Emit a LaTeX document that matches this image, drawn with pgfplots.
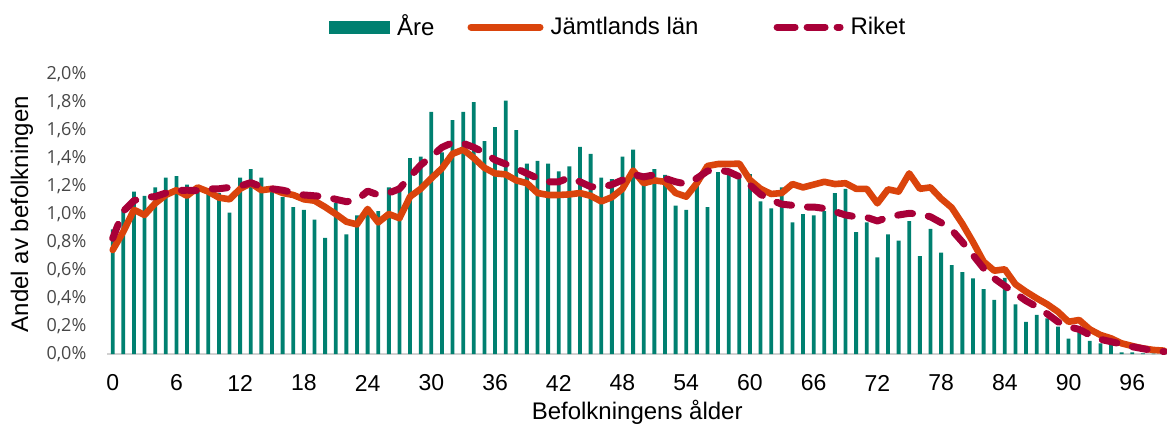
\documentclass[border=0pt]{standalone}
\usepackage{pgfplots}
\usepackage{pgfplotstable}
\pgfplotsset{compat=1.18}
\usepackage{fontspec}
\setmainfont{Liberation Sans}
\newfontfamily\yfont{Open Sans}
\definecolor{areC}{RGB}{0,128,112}
\definecolor{jamC}{RGB}{218,68,12}
\definecolor{rikC}{RGB}{168,0,56}

\pgfplotstableread{
age are jam rik
0 0.89 0.743 0.826
1 1.03 0.874 1.02
2 1.16 1.03 1.095
3 1.13 0.993 1.12
4 1.19 1.076 1.124
5 1.26 1.136 1.15
6 1.27 1.17 1.167
7 1.21 1.13 1.17
8 1.19 1.19 1.167
9 1.17 1.16 1.18
10 1.15 1.117 1.18
11 1.01 1.105 1.19
12 1.26 1.18 1.20
13 1.32 1.22 1.224
14 1.26 1.17 1.195
15 1.17 1.18 1.18
16 1.12 1.15 1.17
17 1.05 1.136 1.152
18 1.03 1.105 1.136
19 0.96 1.095 1.13
20 0.83 1.05 1.124
21 1.08 1.00 1.105
22 0.855 0.945 1.088
23 0.99 0.926 1.10
24 1.005 1.036 1.164
25 1.02 0.94 1.136
26 1.19 1.00 1.15
27 1.17 0.97 1.18
28 1.40 1.124 1.267
29 1.41 1.18 1.35
30 1.73 1.255 1.41
31 1.44 1.326 1.476
32 1.67 1.43 1.51
33 1.73 1.46 1.505
34 1.80 1.40 1.476
35 1.52 1.33 1.438
36 1.62 1.29 1.386
37 1.81 1.283 1.357
38 1.60 1.24 1.326
39 1.36 1.22 1.29
40 1.38 1.15 1.255
41 1.36 1.136 1.23
42 1.305 1.136 1.23
43 1.34 1.14 1.26
44 1.48 1.15 1.23
45 1.43 1.13 1.195
46 1.26 1.09 1.19
47 1.25 1.12 1.21
48 1.41 1.18 1.243
49 1.46 1.31 1.283
50 1.29 1.22 1.265
51 1.32 1.24 1.28
52 1.28 1.23 1.255
53 1.06 1.15 1.23
54 1.03 1.124 1.214
55 1.25 1.22 1.255
56 1.05 1.343 1.307
57 1.30 1.357 1.314
58 1.31 1.357 1.302
59 1.28 1.36 1.267
60 1.285 1.243 1.207
61 1.09 1.18 1.14
62 1.04 1.143 1.10
63 1.19 1.15 1.07
64 0.94 1.214 1.062
65 1.00 1.19 1.05
66 0.99 1.21 1.05
67 1.02 1.23 1.04
68 1.15 1.214 1.017
69 1.18 1.22 0.993
70 0.87 1.18 0.98
71 0.94 1.18 0.976
72 0.69 1.076 0.95
73 0.855 1.176 0.976
74 0.81 1.16 0.993
75 0.95 1.29 1.005
76 0.70 1.18 1.00
77 0.893 1.19 0.98
78 0.725 1.11 0.938
79 0.635 1.045 0.886
80 0.585 0.93 0.80
81 0.54 0.80 0.707
82 0.464 0.66 0.612
83 0.386 0.595 0.54
84 0.543 0.605 0.486
85 0.355 0.498 0.433
86 0.23 0.445 0.38
87 0.279 0.398 0.338
88 0.255 0.355 0.286
89 0.195 0.302 0.23
90 0.11 0.23 0.195
91 0.167 0.243 0.176
92 0.093 0.176 0.136
93 0.076 0.136 0.105
94 0.069 0.112 0.088
95 0.012 0.076 0.071
96 0.012 0.057 0.052
97 0.005 0.04 0.038
98 0.003 0.029 0.024
99 0.002 0.024 0.017
}\datatable

\begin{document}
\begin{tikzpicture}
\begin{axis}[
  scale only axis,
  width=529.8pt, height=140pt,
  xmin=-0.5, xmax=99.27,
  ymin=0, ymax=2.0,
  axis x line*=bottom,
  axis y line*=left,
  x axis line style={-, draw=black!18, line width=1pt},
  y axis line style={-, draw=none},
  major tick length=0pt,
  xtick={0,6,12,18,24,30,36,42,48,54,60,66,72,78,84,90,96},
  xticklabels={0,6,12,18,24,30,36,42,48,54,60,66,72,78,84,90,96},
  xticklabel style={anchor=center, yshift=-14.5pt, font=\fontsize{11.5}{13}\selectfont},
  ytick={0,0.2,0.4,0.6,0.8,1.0,1.2,1.4,1.6,1.8,2.0},
  yticklabels={{0,0\%},{0,2\%},{0,4\%},{0,6\%},{0,8\%},{1,0\%},{1,2\%},{1,4\%},{1,6\%},{1,8\%},{2,0\%}},
  yticklabel style={anchor=east, xshift=-7pt, font=\yfont\fontsize{9}{10}\selectfont, text=black!72},
  every axis x label/.style={at={(rel axis cs:0.5,0)}, anchor=center, yshift=-29pt, font=\fontsize{12}{14}\selectfont},
  every axis y label/.style={at={(rel axis cs:0,0.5)}, xshift=-42.7pt, rotate=90, anchor=center, font=\fontsize{12}{14}\selectfont},
  xlabel={Befolkningens ålder},
  ylabel={Andel av befolkningen},
  legend columns=3,
  legend style={at={(0.475,1)}, anchor=center, xshift=4pt, yshift=23.5pt, draw=none, fill=none,
    font=\fontsize{12}{14}\selectfont,
    nodes={inner sep=1.5pt},
    /tikz/column 1/.style={column sep=2pt},
    /tikz/column 2/.style={column sep=15pt},
    /tikz/column 3/.style={column sep=2pt},
    /tikz/column 4/.style={column sep=36pt},
    /tikz/column 5/.style={column sep=2pt}},
  line join=round,
]
\addplot[ybar, bar width=0.36, fill=areC, draw=none,
  legend image code/.code={\fill[areC] (0pt,-3.25pt) rectangle (30.5pt,3.25pt);}]
  table[x=age, y=are] {\datatable};
\addlegendentry{Åre}
\addplot[jamC, line width=3.3pt, line cap=round,
  legend image code/.code={\draw[jamC, line width=3.5pt, line cap=round] (1.75pt,0) -- (36.25pt,0);}]
  table[x=age, y=jam] {\datatable};
\addlegendentry{Jämtlands län}
\addplot[rikC, line width=3.5pt, line cap=round, dash pattern=on 7.5pt off 8pt,
  legend image code/.code={\draw[rikC, line width=3.5pt, line cap=round, dash pattern=on 9pt off 6pt] (1.75pt,0) -- (33.25pt,0);}]
  table[x=age, y=rik] {\datatable};
\addlegendentry{Riket}
\end{axis}
\pgfresetboundingbox
\path ([xshift=-53.7pt,yshift=-38pt]current axis.south west) rectangle ([yshift=37pt]current axis.north east);
\end{tikzpicture}
\end{document}
